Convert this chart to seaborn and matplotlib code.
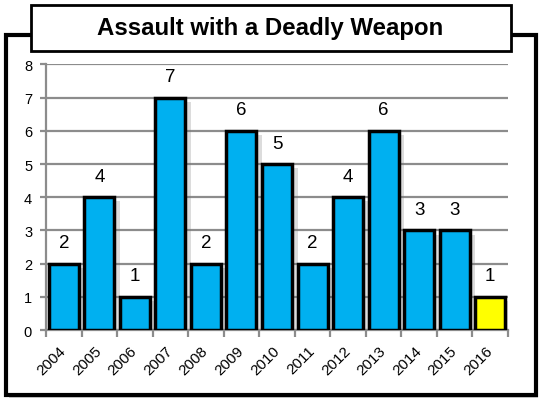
import numpy as np
import pandas as pd
import matplotlib.pyplot as plt
import matplotlib.patheffects as pe
from matplotlib.patches import Rectangle
import seaborn as sns

years = ['2004', '2005', '2006', '2007', '2008', '2009', '2010',
         '2011', '2012', '2013', '2014', '2015', '2016']
counts = [2, 4, 1, 7, 2, 6, 5, 2, 4, 6, 3, 3, 1]
bar_colors = ['#00B0F0'] * 12 + ['#FFFF00']

sns.set_style('white')
plt.rcParams['font.family'] = ['Liberation Sans', 'DejaVu Sans']
plt.rcParams['text.color'] = 'black'
plt.rcParams['xtick.color'] = 'black'
plt.rcParams['ytick.color'] = 'black'

df = pd.DataFrame({'year': years, 'count': counts})

fig = plt.figure(figsize=(5.4, 4.02), dpi=100)

# Outer frame with shadow
fig.patches.append(Rectangle((0.016, 0.007), 0.98, 0.8955, transform=fig.transFigure,
                             facecolor='#b0b0b0', edgecolor='none', alpha=0.6, zorder=0))
fig.patches.append(Rectangle((0.012, 0.015), 0.98, 0.8955, transform=fig.transFigure,
                             facecolor='white', edgecolor='black', linewidth=3, zorder=1))

ax = fig.add_axes([0.0852, 0.1766, 0.8556, 0.6605])
ax.set_zorder(2)
ax.patch.set_alpha(0)

sns.barplot(data=df, x='year', y='count', hue='year', palette=bar_colors, legend=False,
            width=0.845, edgecolor='black', linewidth=2.5, saturation=1, ax=ax, zorder=3)

shadow = [pe.SimplePatchShadow(offset=(4, -3), shadow_rgbFace='#777777', alpha=0.25), pe.Normal()]
for bar in ax.patches:
    bar.set_path_effects(shadow)

for i, v in enumerate(counts):
    ax.annotate(str(v), (i, v), xytext=(0, 9), textcoords='offset points',
                ha='center', va='bottom', fontsize=13.5)

ax.set_ylim(0, 8)
ax.set_xlim(-0.5, 12.5)
ax.set_yticks(range(0, 9))
ax.yaxis.grid(True, color='#8c8c8c', linewidth=1.6, zorder=0)
ax.set_axisbelow(True)
for s in ['top', 'right']:
    ax.spines[s].set_visible(False)
for s in ['left', 'bottom']:
    ax.spines[s].set_color('#8c8c8c')
    ax.spines[s].set_linewidth(1.6)

ax.tick_params(axis='y', length=4, width=1.6, color='#8c8c8c', labelcolor='black',
               labelsize=10.5, pad=6, left=True)
ax.set_xticks(range(13))
ax.set_xticklabels(years, rotation=45, ha='right', va='center', rotation_mode='anchor', fontsize=11)
ax.tick_params(axis='x', which='major', length=0, pad=13, labelcolor='black')
ax.set_xticks(np.arange(-0.5, 13, 1), minor=True)
ax.tick_params(axis='x', which='minor', length=5, width=1.6, color='#8c8c8c', bottom=True)
ax.set_xlabel('')
ax.set_ylabel('')

# Title box
fig.patches.append(Rectangle((0.0574, 0.8706), 0.889, 0.1157, transform=fig.transFigure,
                             facecolor='white', edgecolor='black', linewidth=2, zorder=3))
fig.text(0.5, 0.928, 'Assault with a Deadly Weapon', ha='center', va='center',
         fontsize=17.3, fontweight='bold', color='black', zorder=4)

fig.savefig('out.png', dpi=100)
